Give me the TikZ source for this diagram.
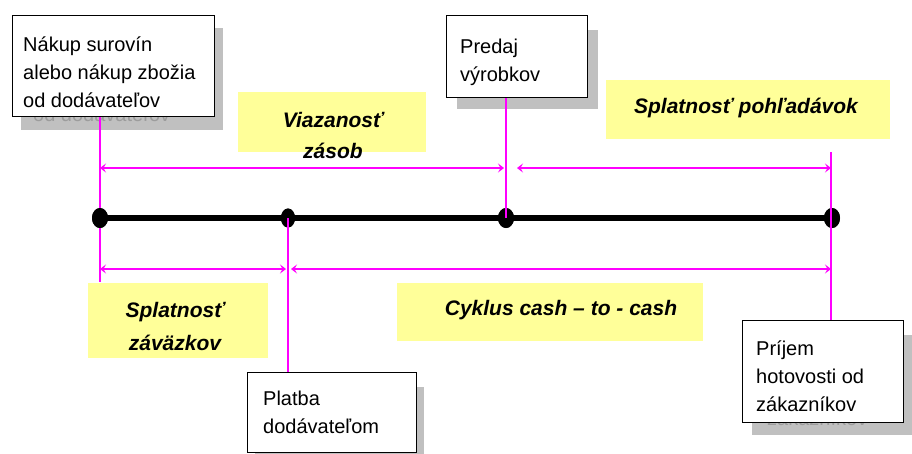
\documentclass[tikz,border=0pt]{standalone}
\usepackage{fontspec}
\setmainfont{Liberation Sans}
\usetikzlibrary{arrows.meta,shapes.geometric,calc}
\definecolor{mag}{HTML}{FF00FF}
\definecolor{yel}{HTML}{FFFF99}
\definecolor{shad}{HTML}{C0C0C0}
\definecolor{ghost}{HTML}{9C9C9C}
\begin{document}
\begin{tikzpicture}[x=1pt,y=-1pt,
  whitebox/.style={draw=black,line width=1.3pt,fill=white,rectangle,inner sep=0,anchor=north west},
  shadowbox/.style={fill=shad,rectangle,inner sep=0,anchor=north west},
  yelbox/.style={fill=yel,rectangle,inner sep=0,anchor=north west},
  boxtext/.style={font=\fontsize{20}{28}\selectfont,align=left,inner sep=0,anchor=base west},
  ghosttext/.style={boxtext,text=ghost},
  yeltext/.style={font=\fontsize{21}{32}\selectfont\bfseries\itshape,align=center,inner sep=0,anchor=base},
  dot/.style={ellipse,fill=black,inner sep=0,minimum width=16pt,minimum height=20pt},
  magline/.style={draw=mag,line width=1.6pt},
  dimarrow/.style={magline,{Stealth[length=6pt,width=9pt,inset=2.5pt]}-{Stealth[length=6pt,width=9pt,inset=2.5pt]}}
]
\useasboundingbox (0,0) rectangle (912,453);
\fill[white] (0,0) rectangle (912,453);

% yellow label boxes
\node[yelbox,minimum width=188pt,minimum height=60pt] (y1) at (238,92) {};
\node[yelbox,minimum width=284pt,minimum height=59pt] (y2) at (606,80) {};
\node[yelbox,minimum width=180pt,minimum height=75pt] (y3) at (88,283) {};
\node[yelbox,minimum width=306pt,minimum height=58pt] (y4) at (397,283) {};
\node[yeltext,font=\fontsize{21}{31}\selectfont\bfseries\itshape] (t5) at (333,158) {Viazanosť\\zásob};
\node[yeltext] (t6) at (746,113) {Splatnosť pohľadávok};
\node[yeltext,font=\fontsize{21}{33}\selectfont\bfseries\itshape] (t7) at (175,350) {Splatnosť\\záväzkov};
\node[yeltext] (t8) at (561,315) {Cyklus cash – to - cash};

% timeline
\node[dot] (d1) at (100,218) {};
\node[dot,minimum width=14pt,minimum height=19pt] (d2) at (288,218) {};
\node[dot] (d3) at (506,218) {};
\node[dot] (d4) at (832,218) {};
\draw[line width=6pt] (d1.center) -- (d4.center);
\node[dot] at (d1) {};
\node[dot,minimum width=14pt,minimum height=19pt] at (d2) {};
\node[dot] at (d3) {};
\node[dot] at (d4) {};

% shadows
\node[shadowbox,minimum width=202pt,minimum height=102pt] (s1) at (21,28) {};
\begin{scope}
  \clip (s1.north west) rectangle (s1.south east);
  \node[ghosttext] (g1) at (33,121) {Nákup surovín\\alebo nákup zbožia\\od dodávateľov};
\end{scope}
\node[shadowbox,minimum width=141pt,minimum height=79pt] (s2) at (457,30) {};
\node[shadowbox,minimum width=169pt,minimum height=70pt] (s3) at (255,387) {};
\node[shadowbox,minimum width=160pt,minimum height=100pt] (s4) at (752,335) {};
\begin{scope}
  \clip (s4.north west) rectangle (s4.south east);
  \node[ghosttext] (g4) at (767,425) {Príjem\\hotovosti od\\zákazníkov};
\end{scope}

% white boxes
\node[whitebox,minimum width=202pt,minimum height=101pt] (b1) at (12,15) {};
\node[boxtext] (t1) at (23,107) {Nákup surovín\\alebo nákup zbožia\\od dodávateľov};
\node[whitebox,minimum width=141pt,minimum height=82pt] (b2) at (446,15) {};
\node[boxtext] (t2) at (460,81) {Predaj\\výrobkov};
\node[whitebox,minimum width=169pt,minimum height=80pt] (b3) at (247,372) {};
\node[boxtext] (t3) at (263,433) {Platba\\dodávateľom};
\node[whitebox,minimum width=161pt,minimum height=102pt] (b4) at (742,320) {};
\node[boxtext] (t4) at (756,411) {Príjem\\hotovosti od\\zákazníkov};

% magenta verticals
\coordinate (c1) at (100,282);
\coordinate (c4) at (831,152);
\draw[magline] (d1 |- b1.south) -- (d1.north);
\draw[magline] (d1.south) -- (c1);
\draw[magline] (d3 |- b2.south) -- (d3.center);
\draw[magline] (d2.center) -- (d2 |- b3.north);
\draw[magline] (c4) -- (c4 |- b4.north);

% dimension arrows
\coordinate (a1) at (100,168);
\coordinate (a2) at (504,168);
\coordinate (a3) at (517,168);
\coordinate (a4) at (831,168);
\coordinate (a5) at (100,269);
\coordinate (a6) at (286,269);
\coordinate (a7) at (291,269);
\coordinate (a8) at (831,269);
\draw[dimarrow] (a1) -- (a2);
\draw[dimarrow] (a3) -- (a4);
\draw[dimarrow] (a5) -- (a6);
\draw[dimarrow] (a7) -- (a8);
\end{tikzpicture}
\end{document}
